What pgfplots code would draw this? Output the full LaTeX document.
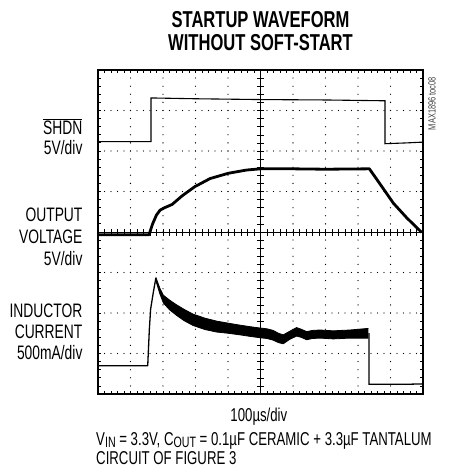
\documentclass[border=0pt]{standalone}
\usepackage{fontspec}
\setmainfont{Liberation Sans}[FakeStretch=0.71]
\newfontfamily\titlefont{Liberation Sans Bold}[FakeStretch=0.72]
\usepackage{pgfplots}
\pgfplotsset{compat=1.18}
\usepgfplotslibrary{fillbetween}
\newcommand\sub[1]{\raisebox{-1.5pt}{\fontsize{15}{15}\selectfont #1}}

\pgfplotstableread{
x y
0 6.23
1.63 6.23
1.63 7.31
3 7.29
5 7.27
7 7.26
8.83 7.24
8.83 6.18
9.5 6.20
10 6.22
}\shdn

\pgfplotstableread{
x y
0 3.93
1.57 3.93
1.68 4.20
1.80 4.42
1.91 4.54
2.05 4.60
2.28 4.68
2.60 4.90
2.98 5.12
3.45 5.32
4.01 5.45
4.57 5.53
5.00 5.56
6.00 5.56
7.00 5.55
8.35 5.56
8.70 5.16
9.09 4.71
9.50 4.35
9.96 3.99
}\vout

\pgfplotstableread{
x y
0 0.70
1.53 0.70
1.58 1.60
1.62 2.10
1.70 2.50
1.78 2.86
}\irise

\pgfplotstableread{
x up lo
1.78 2.88 2.80
1.90 2.62 2.48
2.01 2.44 2.25
2.20 2.32 2.08
2.42 2.20 1.94
2.65 2.09 1.81
2.93 1.97 1.69
3.30 1.87 1.59
3.65 1.80 1.53
4.00 1.75 1.50
4.37 1.70 1.46
4.70 1.66 1.42
4.98 1.63 1.39
5.20 1.61 1.37
5.39 1.57 1.33
5.55 1.50 1.27
5.70 1.46 1.24
5.90 1.55 1.35
6.11 1.64 1.43
6.25 1.60 1.40
6.42 1.54 1.34
6.60 1.57 1.37
6.83 1.58 1.38
7.24 1.56 1.36
7.75 1.58 1.38
8.32 1.62 1.38
}\iband

\pgfplotstableread{
x y
8.34 1.50
8.34 0.24
9.50 0.24
10 0.25
}\ifall

\begin{document}
\begin{tikzpicture}
% centre cross with its ticks
\begin{axis}[
  width=325pt, height=324pt, scale only axis,
  xmin=-5, xmax=5, ymin=-4, ymax=4,
  axis lines=middle,
  axis line style={-, line width=0.7pt},
  xtick={-5,...,5}, ytick={-4,...,4},
  minor x tick num=4, minor y tick num=4,
  tick align=center,
  major tick length=7pt, minor tick length=7pt,
  tick style={black, line width=0.6pt},
  xticklabels={}, yticklabels={},
]
\end{axis}
% main frame and traces
\begin{axis}[
  width=325pt, height=324pt, scale only axis,
  xmin=0, xmax=10, ymin=0, ymax=8,
  axis line style={line width=2.4pt},
  xtick={0,...,10}, ytick={0,...,8},
  minor x tick num=4, minor y tick num=4,
  tick align=inside,
  major tick length=3.5pt, minor tick length=3.5pt,
  tick style={black, line width=0.8pt},
  xticklabels={}, yticklabels={},
  clip=false,
  hgrid/.style={black, line width=1.3pt, line cap=round, dash pattern=on 0pt off 6.5pt},
  vgrid/.style={black, line width=1.3pt, line cap=round, dash pattern=on 0pt off 8.1pt},
]
\pgfplotsinvokeforeach{1,2,3,5,6,7}{\addplot[hgrid] coordinates {(0,#1) (10,#1)};}
\pgfplotsinvokeforeach{1,2,3,4,6,7,8,9}{\addplot[vgrid] coordinates {(#1,0) (#1,8)};}

\addplot[black, line width=1.1pt] table[x=x,y=y] {\shdn};
\addplot[black, line width=2.8pt, line join=round] table[x=x,y=y] {\vout};
\addplot[black, line width=1.3pt, line join=round] table[x=x,y=y] {\irise};
\addplot[name path=up, black, line width=0.8pt] table[x=x,y=up] {\iband};
\addplot[name path=lo, black, line width=0.8pt] table[x=x,y=lo] {\iband};
\addplot[black] fill between[of=up and lo];
\addplot[black, line width=1.3pt] table[x=x,y=y] {\ifall};

% texts
\node[align=center, font=\titlefont\fontsize{23}{23}\selectfont] at (axis cs:5,8.95)
  {STARTUP WAVEFORM\\WITHOUT SOFT-START};
\node[anchor=east, align=right, font=\fontsize{19.5}{20.6}\selectfont] at (axis cs:-0.37,6.35)
  {$\overline{\mbox{SHDN}}$\\5V/div};
\node[anchor=east, align=right, font=\fontsize{19.5}{21.7}\selectfont] at (axis cs:-0.37,3.885)
  {OUTPUT\\VOLTAGE\\5V/div};
\node[anchor=east, align=right, font=\fontsize{19.5}{20.8}\selectfont] at (axis cs:-0.37,1.54)
  {INDUCTOR\\CURRENT\\500mA/div};
\node[font=\fontsize{18.6}{21}\selectfont] at (axis cs:4.95,-0.56) {100µs/div};
\node[anchor=base west, inner sep=0pt, font=\fontsize{18.6}{19}\selectfont] at (axis cs:-0.06,-1.277)
  {V\sub{IN} = 3.3V, C\sub{OUT} = 0.1µF CERAMIC + 3.3µF TANTALUM};
\node[anchor=base west, inner sep=0pt, font=\fontsize{18.6}{19}\selectfont] at (axis cs:-0.06,-1.753)
  {CIRCUIT OF FIGURE 3};
\node[rotate=90, text=black!75, font=\fontsize{10.5}{11}\selectfont] at (axis cs:10.277,7.17) {MAX1896 toc08};
\end{axis}
\pgfresetboundingbox
\path[use as bounding box] ([shift={(-98pt,-78pt)}]current axis.south west) rectangle ([shift={(36pt,70pt)}]current axis.north east);
\end{tikzpicture}
\end{document}
